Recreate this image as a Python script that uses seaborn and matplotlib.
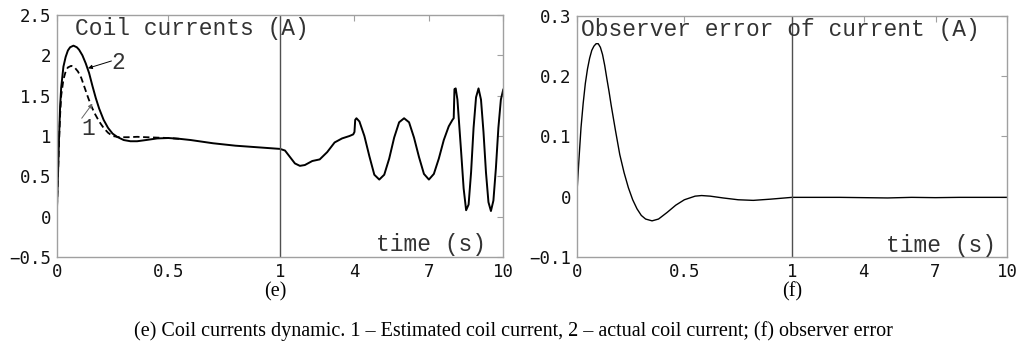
import numpy as np
import pandas as pd
import matplotlib
matplotlib.use("Agg")
import matplotlib.pyplot as plt
import seaborn as sns

# ---- data ----
# panel (e): coil currents, time in s
t_fast = [0, 0.005, 0.01, 0.015, 0.02, 0.03, 0.04, 0.05, 0.06, 0.075, 0.09, 0.10,
          0.115, 0.13, 0.145, 0.16, 0.175, 0.19, 0.21, 0.23, 0.25, 0.27, 0.30, 0.33,
          0.36, 0.40, 0.45, 0.50, 0.55, 0.60, 0.70, 0.80, 0.90]
i_actual_fast = [0, 0.45, 0.95, 1.35, 1.60, 1.86, 1.98, 2.06, 2.10, 2.12, 2.10, 2.07,
                 2.00, 1.90, 1.78, 1.62, 1.47, 1.34, 1.20, 1.10, 1.03, 0.99, 0.95, 0.935,
                 0.935, 0.95, 0.97, 0.975, 0.965, 0.95, 0.91, 0.88, 0.86]

t_slow = [1.0, 1.2, 1.4, 1.6, 1.8, 2.0, 2.3, 2.6, 2.9, 3.2, 3.5, 3.8, 3.95, 4.0, 4.03,
          4.08, 4.2, 4.4, 4.6, 4.8, 5.0, 5.2, 5.4, 5.6, 5.8, 6.0, 6.2, 6.4, 6.6, 6.8,
          7.0, 7.2, 7.4, 7.6, 7.8, 7.95, 8.0, 8.03, 8.08, 8.15, 8.3, 8.4, 8.5, 8.6,
          8.7, 8.8, 8.9, 9.0, 9.1, 9.2, 9.3, 9.4, 9.5, 9.6, 9.7, 9.8, 9.9, 10.0]
i_actual_slow = [0.84, 0.82, 0.74, 0.66, 0.63, 0.64, 0.69, 0.71, 0.80, 0.92, 0.97, 1.00,
                 1.02, 1.05, 1.20, 1.22, 1.18, 1.00, 0.75, 0.52, 0.46, 0.52, 0.72, 0.98,
                 1.17, 1.22, 1.17, 0.98, 0.74, 0.53, 0.46, 0.53, 0.72, 0.95, 1.12, 1.20,
                 1.22, 1.58, 1.59, 1.45, 0.80, 0.35, 0.08, 0.15, 0.55, 1.10, 1.48, 1.59,
                 1.45, 1.05, 0.55, 0.18, 0.07, 0.20, 0.60, 1.10, 1.45, 1.58]

# estimated current differs from the actual one only during the transient
t_est = [0, 0.005, 0.01, 0.015, 0.02, 0.03, 0.04, 0.05, 0.065, 0.08, 0.095, 0.11,
         0.125, 0.14, 0.155, 0.17, 0.19, 0.21, 0.23, 0.25, 0.28, 0.32, 0.36, 0.40,
         0.45, 0.50, 0.55]
i_est = [0, 0.45, 0.90, 1.25, 1.50, 1.70, 1.80, 1.85, 1.87, 1.85, 1.80, 1.72,
         1.60, 1.48, 1.37, 1.28, 1.18, 1.10, 1.04, 1.00, 0.985, 0.985, 0.99, 0.985,
         0.98, 0.975, 0.965]

# panel (f): observer error
t_err = [0, 0.005, 0.01, 0.02, 0.03, 0.04, 0.05, 0.06, 0.07, 0.08, 0.09, 0.10, 0.11,
         0.12, 0.13, 0.14, 0.15, 0.16, 0.18, 0.20, 0.22, 0.24, 0.26, 0.28, 0.30, 0.32,
         0.35, 0.38, 0.42, 0.46, 0.50, 0.55, 0.58, 0.62, 0.68, 0.75, 0.82, 0.90, 1.0,
         2, 3, 4, 5, 6, 7, 8, 9, 10]
e_err = [0, 0.03, 0.06, 0.115, 0.155, 0.188, 0.212, 0.23, 0.243, 0.25, 0.254, 0.254,
         0.248, 0.236, 0.218, 0.196, 0.175, 0.152, 0.11, 0.07, 0.04, 0.015, -0.005,
         -0.02, -0.031, -0.037, -0.04, -0.037, -0.026, -0.014, -0.005, 0.001, 0.002,
         0.001, -0.002, -0.005, -0.006, -0.004, -0.001, -0.001, -0.001, -0.0015,
         -0.002, -0.001, -0.0015, -0.001, -0.001, -0.001]

x_ticks = [0, 0.5, 1, 4, 7, 10]
x_tick_labels = ["0", "0.5", "1", "4", "7", "10"]
y_ticks_e = [-0.5, 0, 0.5, 1, 1.5, 2, 2.5]
y_ticks_f = [-0.1, 0, 0.1, 0.2, 0.3]


def fwd(t):
    # 0..1 s and 1..10 s each get half of the axis
    t = np.asarray(t, dtype=float)
    return np.where(t <= 1, t, 1 + (t - 1) / 9.0)


def inv(u):
    u = np.asarray(u, dtype=float)
    return np.where(u <= 1, u, 1 + 9.0 * (u - 1))


sns.set_style("white")
plt.rcParams["font.family"] = ["DejaVu Sans Mono", "DejaVu Sans"]

fig = plt.figure(figsize=(10.22, 3.44), dpi=100)
ax_e = fig.add_axes([0.0555, 0.2529, 0.437, 0.7035])
ax_f = fig.add_axes([0.5643, 0.2529, 0.4213, 0.7006])

actual = pd.DataFrame({"t": t_fast + t_slow, "i": i_actual_fast + i_actual_slow})
est = pd.DataFrame({"t": t_est, "i": i_est})
err = pd.DataFrame({"t": t_err, "e": e_err})

sns.lineplot(data=actual, x="t", y="i", ax=ax_e, color="black", lw=1.4,
             estimator=None)
sns.lineplot(data=est, x="t", y="i", ax=ax_e, color="black", lw=1.3,
             linestyle=(0, (3.5, 2)), estimator=None)
sns.lineplot(data=err, x="t", y="e", ax=ax_f, color="black", lw=1.0,
             estimator=None)

spine_col = "#a0a0a0"
for ax, yt, ylim in [(ax_e, y_ticks_e, (-0.5, 2.5)), (ax_f, y_ticks_f, (-0.1, 0.3))]:
    ax.set_xscale("function", functions=(fwd, inv))
    ax.set_xlim(0, 10)
    ax.set_ylim(*ylim)
    ax.set_xticks(x_ticks)
    ax.set_xticklabels(x_tick_labels)
    ax.set_yticks(yt)
    ax.set_yticklabels([f"{v:g}".replace("-", "\u2212") for v in yt])
    ax.minorticks_off()
    ax.set_xlabel("")
    ax.set_ylabel("")
    ax.tick_params(direction="in", top=True, right=True, length=4, width=0.8,
                   color=spine_col, labelsize=12.5, pad=4, labelcolor="#111111")
    for s in ax.spines.values():
        s.set_color(spine_col)
        s.set_linewidth(1.0)
    ax.axvline(1, color="#505050", lw=1.0)

txt = dict(family=["Liberation Mono", "DejaVu Sans Mono"], fontsize=16.5, color="#333333")
ax_e.text(0.041, 0.946, "Coil currents (A)", transform=ax_e.transAxes,
          va="center", ha="left", **txt)
ax_e.text(0.715, 0.05, "time (s)", transform=ax_e.transAxes,
          va="center", ha="left", **txt)
ax_f.text(0.01, 0.946, "Observer error of current (A)", transform=ax_f.transAxes,
          va="center", ha="left", **txt)
ax_f.text(0.718, 0.046, "time (s)", transform=ax_f.transAxes,
          va="center", ha="left", **txt)

# curve labels with arrows
ax_e.annotate("", xy=(0.14, 1.84), xytext=(0.245, 1.93),
              arrowprops=dict(arrowstyle="-|>", color="black", lw=0.7,
                              mutation_scale=6, shrinkA=0, shrinkB=0))
ax_e.text(0.275, 1.91, "2", ha="center", va="center", **txt)
ax_e.annotate("", xy=(0.16, 1.40), xytext=(0.112, 1.22),
              arrowprops=dict(arrowstyle="-|>", color="#666666", lw=0.7,
                              mutation_scale=6, shrinkA=0, shrinkB=0))
ax_e.text(0.141, 1.096, "1", ha="center", va="center", **txt)

cap = dict(family=["Liberation Serif", "DejaVu Serif"], fontsize=14.5, color="black")
fig.text(0.269, 0.137, "(e)", ha="center", va="baseline", **cap)
fig.text(0.775, 0.137, "(f)", ha="center", va="baseline", **cap)
fig.text(0.502, 0.023,
         "(e) Coil currents dynamic. 1 \u2013 Estimated coil current, 2 \u2013 actual "
         "coil current; (f) observer error", ha="center", va="baseline", **cap)

fig.savefig("out.png", dpi=100)
